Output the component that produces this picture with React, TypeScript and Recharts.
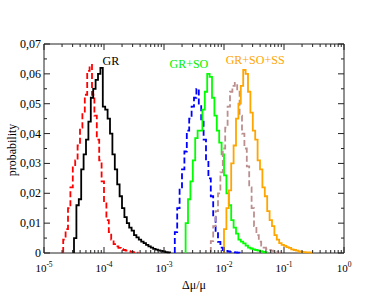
import React from 'react';
import { LineChart, Line, XAxis, YAxis, ReferenceArea, ReferenceDot } from 'recharts';

// histogram bins are 0.04 decades wide; each series starts at log10(x) = start
const BIN_STEP = 0.04;

const redStart = -4.68;
const redValues = [
  0.0045, 0.008, 0.015, 0.022, 0.029, 0.031, 0.036, 0.042, 0.047, 0.053, 0.061, 0.063,
  0.053, 0.046, 0.038, 0.031, 0.024, 0.017, 0.011, 0.007, 0.0045, 0.003, 0.0022, 0.0017,
  0.0013, 0.001, 0.0008, 0.0006, 0.0004, 0.0003, 0.0001, 0,
];

const blackStart = -4.5;
const blackValues = [
  0.005, 0.016, 0.018, 0.028, 0.033, 0.038, 0.044, 0.052, 0.055, 0.058, 0.06, 0.062,
  0.049, 0.048, 0.045, 0.04, 0.033, 0.028, 0.023, 0.019, 0.015, 0.012, 0.01, 0.0085,
  0.0075, 0.006, 0.0052, 0.0045, 0.0038, 0.0033, 0.0027, 0.0022, 0.0018, 0.0014, 0.0011,
  0.0009, 0.0007, 0.0005, 0.0003, 0.0002, 0,
];

const blueStart = -2.82;
const blueValues = [
  0.007, 0.015, 0.022, 0.028, 0.034, 0.041, 0.045, 0.049, 0.052, 0.055, 0.05, 0.044,
  0.038, 0.031, 0.025, 0.019, 0.012, 0.007, 0.0037, 0.0018, 0.001, 0.0007, 0.0005,
  0.0004, 0.0003, 0.0002, 0.0001, 0,
];

const greenStart = -2.64;
const greenValues = [
  0.01, 0.018, 0.024, 0.031, 0.0385, 0.041, 0.041, 0.048, 0.054, 0.06, 0.059, 0.052,
  0.046, 0.041, 0.037, 0.033, 0.026, 0.02, 0.016, 0.011, 0.0085, 0.0065, 0.0045, 0.0038,
  0.0032, 0.0025, 0.0018, 0.0015, 0.0012, 0.001, 0.0008, 0.0006, 0.0004, 0.0002, 0,
];

const brownStart = -2.22;
const brownValues = [
  0.004, 0.009, 0.014, 0.02, 0.027, 0.035, 0.042, 0.049, 0.054, 0.056, 0.057, 0.054,
  0.046, 0.04, 0.035, 0.029, 0.022, 0.015, 0.009, 0.006, 0.0038, 0.0025, 0.0018, 0.0013,
  0.001, 0.0008, 0.0005, 0.0003, 0.0001, 0,
];

const orangeStart = -2.0;
const orangeValues = [
  0.008, 0.015, 0.021, 0.03, 0.036, 0.045, 0.05, 0.056, 0.0613, 0.06, 0.054, 0.047,
  0.041, 0.038, 0.031, 0.028, 0.022, 0.019, 0.014, 0.011, 0.009, 0.006, 0.0045, 0.0033,
  0.0027, 0.0024, 0.002, 0.0017, 0.0012, 0.001, 0.0008, 0.0005, 0.0004, 0.0003, 0.0002,
  0.0002, 0.0001, 0,
];

const xTicks: number[] = [];
for (let d = -5; d < 0; d++) {
  for (let m = 1; m <= 9; m++) xTicks.push(m * Math.pow(10, d));
}
xTicks.push(1);

const yTicks = [0, 0.005, 0.01, 0.015, 0.02, 0.025, 0.03, 0.035, 0.04, 0.045, 0.05, 0.055, 0.06, 0.065, 0.07];

const toPoints = (start: number, values: number[]) => [
  { x: Math.pow(10, start), y: 0 },
  ...values.map((v, i) => ({ x: Math.pow(10, start + i * BIN_STEP), y: v })),
];

const series = [
  { key: 'red', data: toPoints(redStart, redValues), color: '#ff0000', dash: '6 3' },
  { key: 'black', data: toPoints(blackStart, blackValues), color: '#000000', dash: undefined },
  { key: 'blue', data: toPoints(blueStart, blueValues), color: '#0000ff', dash: '6 3' },
  { key: 'green', data: toPoints(greenStart, greenValues), color: '#00ff00', dash: undefined },
  { key: 'brown', data: toPoints(brownStart, brownValues), color: '#bc8f8f', dash: '6 3' },
  { key: 'orange', data: toPoints(orangeStart, orangeValues), color: '#ffa500', dash: undefined },
];

const W = 387;
const H = 299;
const TOP = 44;
const BOTTOM = 253;
const LEFT = 44;
const RIGHT = 344;
const FONT = 'Liberation Serif, Times New Roman, serif';
const FRAME = '#222';

const XTick = (props: any) => {
  const { x, payload } = props;
  const lg = Math.log10(payload.value);
  const major = Math.abs(lg - Math.round(lg)) < 1e-6;
  const len = major ? 6 : 3;
  return (
    <g>
      <line x1={x} x2={x} y1={BOTTOM} y2={BOTTOM - len} stroke={FRAME} />
      <line x1={x} x2={x} y1={TOP} y2={TOP + len} stroke={FRAME} />
      {major && (
        <text x={x} y={BOTTOM + 19} textAnchor="middle" fontSize={11} fontFamily={FONT} fill="#000">
          10
          <tspan dy={-5} fontSize={7.5}>{Math.round(lg)}</tspan>
        </text>
      )}
    </g>
  );
};

const YTick = (props: any) => {
  const { y, payload } = props;
  const v = payload.value;
  const major = Math.abs(v * 100 - Math.round(v * 100)) < 1e-6;
  const len = major ? 6 : 3;
  return (
    <g>
      <line x1={LEFT} x2={LEFT + len} y1={y} y2={y} stroke={FRAME} />
      <line x1={RIGHT} x2={RIGHT - len} y1={y} y2={y} stroke={FRAME} />
      {major && (
        <text x={LEFT - 3} y={y + 4} textAnchor="end" fontSize={12} fontFamily={FONT} fill="#000">
          {v === 0 ? '0' : v.toFixed(2).replace('.', ',')}
        </text>
      )}
    </g>
  );
};

export default function App() {
  return (
    <div style={{ position: 'absolute', left: 0, top: 0, width: W, height: H, background: '#fff' }}>
      <LineChart width={W} height={H} margin={{ top: TOP, right: W - RIGHT, left: 0, bottom: 0 }}>
        <XAxis
          dataKey="x"
          type="number"
          scale="log"
          domain={[1e-5, 1]}
          ticks={xTicks}
          interval={0}
          allowDataOverflow
          axisLine={false}
          tickLine={false}
          tick={<XTick />}
          height={H - BOTTOM}
        />
        <YAxis
          type="number"
          domain={[0, 0.07]}
          ticks={yTicks}
          interval={0}
          axisLine={false}
          tickLine={false}
          tick={<YTick />}
          width={LEFT}
        />
        <ReferenceArea x1={1e-5} x2={1} y1={0} y2={0.07} fill="none" stroke={FRAME} strokeWidth={1} />
        {series.map((s) => (
          <Line
            key={s.key}
            data={s.data}
            dataKey="y"
            type="stepAfter"
            stroke={s.color}
            strokeWidth={1.8}
            strokeDasharray={s.dash}
            dot={false}
            isAnimationActive={false}
          />
        ))}
        <ReferenceDot x={1.3e-4} y={0.0645} r={0} fill="none" stroke="none"
          label={{ value: 'GR', position: 'center', fill: '#000', fontSize: 12, fontFamily: FONT }} />
        <ReferenceDot x={2.6e-3} y={0.0635} r={0} fill="none" stroke="none"
          label={{ value: 'GR+SO', position: 'center', fill: '#00ee00', fontSize: 12, fontFamily: FONT }} />
        <ReferenceDot x={3.3e-2} y={0.0648} r={0} fill="none" stroke="none"
          label={{ value: 'GR+SO+SS', position: 'center', fill: '#ffa500', fontSize: 12, fontFamily: FONT }} />
      </LineChart>
      <svg width={W} height={H} style={{ position: 'absolute', left: 0, top: 0, pointerEvents: 'none' }}>
        <text x={194} y={289} textAnchor="middle" fontSize={12} fontFamily={FONT} fill="#000">Δμ/μ</text>
        <text x={16} y={150} textAnchor="middle" fontSize={12} fontFamily={FONT} fill="#000"
          transform="rotate(-90 16 150)">probability</text>
      </svg>
    </div>
  );
}
